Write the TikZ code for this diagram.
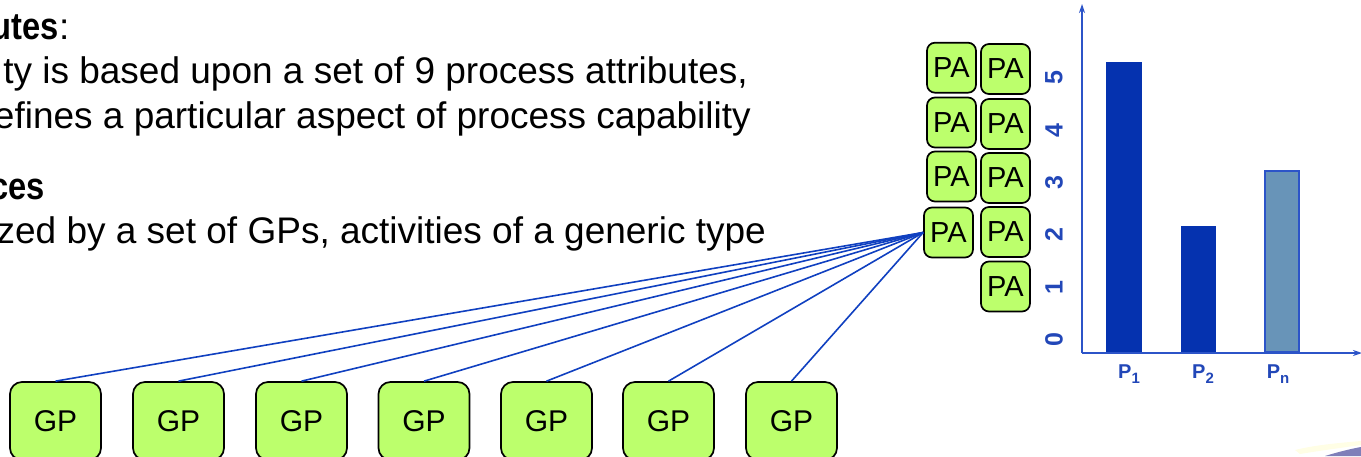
\documentclass[tikz,border=0pt]{standalone}
\usepackage{fontspec}
\setmainfont{Liberation Sans}
\usetikzlibrary{arrows.meta}
\definecolor{boxgreen}{HTML}{BCFF6C}
\definecolor{linkblue}{HTML}{1040C0}
\definecolor{axisblue}{HTML}{2C54C8}
\definecolor{bardark}{HTML}{0532AF}
\definecolor{barlight}{HTML}{6894B8}
\definecolor{labelblue}{HTML}{2247B8}
\tikzset{
  gpbox/.style={draw=black, line width=1.7pt, fill=boxgreen, rounded corners=12pt,
    minimum width=91pt, minimum height=78pt, inner sep=0pt,
    font=\fontsize{30}{32}\selectfont, text depth=0pt},
  pabox/.style={draw=black, line width=1.7pt, fill=boxgreen, rounded corners=8pt,
    minimum width=49pt, minimum height=50pt, inner sep=0pt,
    font=\fontsize{29}{31}\selectfont},
  link/.style={draw=linkblue, line width=1.6pt},
  body/.style={anchor=base east, inner sep=0pt, font=\fontsize{37}{44}\selectfont},
  head/.style={anchor=base east, inner sep=0pt, font=\fontsize{38}{44}\selectfont\bfseries},
  axis/.style={draw=axisblue, line width=1.8pt, -{Stealth[length=9pt,width=6pt]}},
  ylab/.style={rotate=90, text=labelblue, inner sep=0pt, font=\fontsize{25}{25}\selectfont\bfseries},
  xlab/.style={text=labelblue, inner sep=0pt, anchor=base, font=\fontsize{20}{20}\selectfont\bfseries},
}
\newcommand{\subl}[1]{\raisebox{-5pt}{\fontsize{15}{15}\selectfont #1}}
\begin{document}
\begin{tikzpicture}[x=1pt,y=-1pt]
\useasboundingbox (0,0) rectangle (1361,456);
\clip (0,0) rectangle (1361,456);

% text
\node[head] (h1) at (59,39) {\scalebox{0.86}[1]{utes}};
\node[anchor=base west, inner sep=0pt, font=\fontsize{37}{44}\selectfont] (h1c) at (h1.base east) {:};
\node[body] (t1) at (748,83) {ty is based upon a set of 9 process attributes,};
\node[body] (t2) at (751,128) {efines a particular aspect of process capability};
\node[head] (h2) at (45,199) {\scalebox{0.86}[1]{ces}};
\node[body] (t3) at (766,243) {zed by a set of GPs, activities of a generic type};

% PA boxes
\node[pabox] (pa11) at (951.5,67.7) {PA};
\node[pabox] (pa12) at (951.5,122.5) {PA};
\node[pabox] (pa13) at (951.5,176.5) {PA};
\node[pabox] (pa14) at (948.5,232.5) {PA};
\node[pabox] (pa21) at (1005.5,69) {PA};
\node[pabox] (pa22) at (1005.5,124) {PA};
\node[pabox] (pa23) at (1005.5,178) {PA};
\node[pabox] (pa24) at (1005.5,232) {PA};
\node[pabox] (pa25) at (1005.5,286.5) {PA};

% GP boxes
\foreach \i/\x in {1/55.5,2/178.5,3/301.5,4/424,5/546.5,6/668.5,7/791.5}{
  \node[gpbox] (gp\i) at (\x,421) {GP};
}
\foreach \i in {1,...,7}{
  \draw[link] (gp\i.north) -- (pa14.west);
}

% chart
\coordinate (origin) at (1082,353);
\coordinate (ytip) at (1082,4);
\coordinate (xtip) at (1362,353);
\node[draw=none, fill=bardark, minimum width=36pt, minimum height=291pt, inner sep=0pt, anchor=south west] (b1) at (1106,353) {};
\node[draw=none, fill=bardark, minimum width=35pt, minimum height=127pt, inner sep=0pt, anchor=south west] (b2) at (1181,353) {};
\node[draw=axisblue, line width=1.5pt, fill=barlight, minimum width=34pt, minimum height=181pt, inner sep=0pt, anchor=south west] (b3) at (1264,352.5) {};
\draw[axis] (origin) -- (ytip);
\draw[axis] (origin) -- (xtip);

\foreach \d/\y in {5/78,4/130.5,3/183,2/235,1/288,0/340}{
  \node[ylab] (y\d) at (1054,\y) {\d};
}
\node[xlab] (p1) at (1129,378) {P\subl{1}};
\node[xlab] (p2) at (1203,378) {P\subl{2}};
\node[xlab] (pn) at (1278,378) {P\subl{n}};

% faint swoosh at the bottom right
\fill[blue!45!black, opacity=0.5] (1325,456) .. controls (1338,452) and (1350,449) .. (1361,447) -- (1361,456) -- cycle;
\fill[yellow!25, opacity=0.4] (1295,450) .. controls (1315,445) and (1338,443) .. (1361,441) -- (1361,445) .. controls (1340,448) and (1318,451) .. (1300,454) -- cycle;
\end{tikzpicture}
\end{document}
